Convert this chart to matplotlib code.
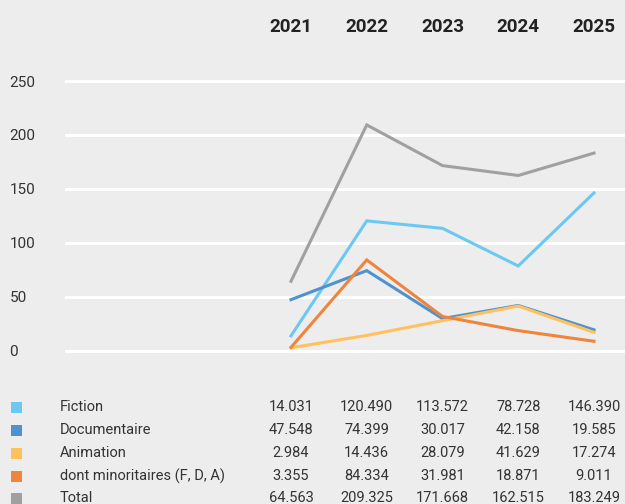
import matplotlib
matplotlib.use("Agg")
import matplotlib.pyplot as plt
import matplotlib.transforms as mtransforms

plt.rcParams["font.family"] = ["Roboto", "DejaVu Sans"]

years = [2021, 2022, 2023, 2024, 2025]
series_names = ["Fiction", "Documentaire", "Animation", "dont minoritaires (F, D, A)", "Total"]
fiction = [14.031, 120.490, 113.572, 78.728, 146.390]
documentaire = [47.548, 74.399, 30.017, 42.158, 19.585]
animation = [2.984, 14.436, 28.079, 41.629, 17.274]
minoritaires = [3.355, 84.334, 31.981, 18.871, 9.011]
total = [64.563, 209.325, 171.668, 162.515, 183.249]
yticks = [0, 50, 100, 150, 200, 250]

colors = ["#6cc8f2", "#4f92d0", "#ffc15e", "#f0843c", "#a0a0a0"]
all_series = [fiction, documentaire, animation, minoritaires, total]

bg = "#ededed"
W, H = 625, 504
fig = plt.figure(figsize=(6.25, 5.04), dpi=100, facecolor=bg)

# axes placed in pixels: 0 at y=351, 250 at y=81
px_unit = 54 / 50
y0, y1 = -3, 253
bottom_px = 351 + 3 * px_unit
top_px = 81 - 3 * px_unit
ax = fig.add_axes([65 / W, (H - bottom_px) / H, 1 - 65 / W, (bottom_px - top_px) / H])
ax.set_facecolor(bg)
px_year = 75.75
ax.set_xlim(2021 - 226 / px_year, 2025 + 31 / px_year)
ax.set_ylim(y0, y1)

for s in ax.spines.values():
    s.set_visible(False)
ax.set_xticks([])
ax.set_yticks(yticks)
ax.set_yticklabels([str(t) for t in yticks], ha="left", fontsize=11, color="#333333")
ax.tick_params(axis="y", length=0, pad=40)
ax.grid(axis="y", color="white", linewidth=2.2)
ax.set_axisbelow(True)

# draw total first so it sits behind the others
order = [4, 0, 1, 2, 3]
for i in order:
    ax.plot(years, all_series[i], color=colors[i], linewidth=2.2, solid_joinstyle="miter",
            clip_on=False, zorder=3)

trans = mtransforms.blended_transform_factory(ax.transData, fig.transFigure)

# year header
for yr in years:
    ax.text(yr, 1 - 27 / H, str(yr), transform=trans, ha="center", va="center",
            fontsize=13.5, fontweight="bold", color="#222222")

# data table below the chart
row_y = [407, 430, 453, 476, 498]
for name, vals, c, ry in zip(series_names, all_series, colors, row_y):
    yf = 1 - ry / H
    fig.patches.append(plt.Rectangle((11 / W, yf - 5.5 / H), 11 / W, 11 / H,
                                     transform=fig.transFigure, facecolor=c, edgecolor="none"))
    fig.text(60 / W, yf, name, ha="left", va="center", fontsize=10.5, color="#333333")
    for yr, v in zip(years, vals):
        ax.text(yr, yf, f"{v:.3f}", transform=trans, ha="center", va="center",
                fontsize=10.5, color="#333333")

fig.savefig("out.png", dpi=100, facecolor=bg)
